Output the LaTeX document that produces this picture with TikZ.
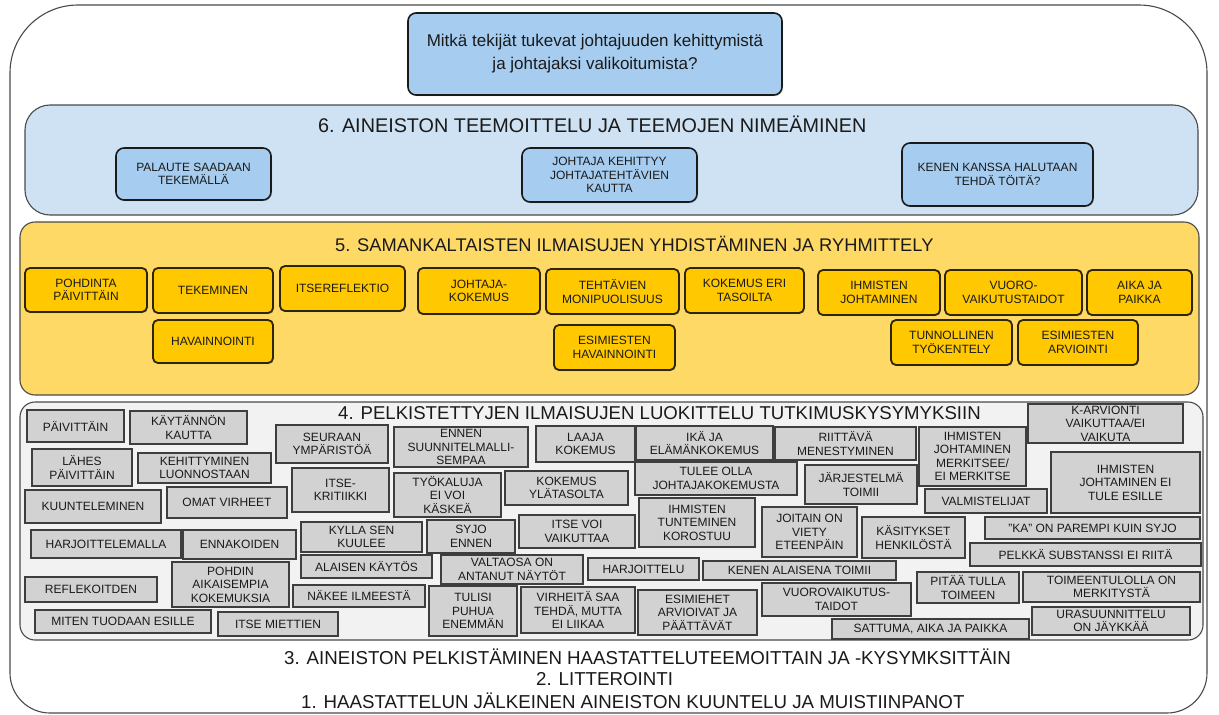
\documentclass[tikz,border=0pt]{standalone}
\usepackage{fontspec}
\setmainfont{Liberation Sans}
\usetikzlibrary{shadows}

\definecolor{frameline}{HTML}{4A4A4A}
\definecolor{qblue}{HTML}{A6CDF0}
\definecolor{panelblue}{HTML}{CFE2F3}
\definecolor{panelgold}{HTML}{FFD966}
\definecolor{gold}{HTML}{FFC800}
\definecolor{goldline}{HTML}{2E2600}
\definecolor{panelgray}{HTML}{F2F2F2}
\definecolor{grayfill}{HTML}{D2D2D2}
\definecolor{grayline}{HTML}{3E3E3E}
\definecolor{ink}{HTML}{1A1A1A}

\tikzset{
  x=1pt, y=-1pt,
  boxbase/.style={rectangle, inner sep=0pt, align=center, text=ink,
    font=\fontsize{12}{13.5}\selectfont},
  panel/.style={rectangle, inner sep=0pt, draw=frameline, line width=1.1pt},
  titletext/.style={inner sep=0pt, anchor=west, text=ink},
  steptext/.style={inner sep=0pt, anchor=west, text=ink, font=\fontsize{18.7}{21}\selectfont},
  graybox/.style={boxbase, fill=grayfill, draw=grayline, line width=1.3pt},
  goldbox/.style={boxbase, fill=gold, draw=goldline, line width=1.8pt, rounded corners=5pt,
    drop shadow={opacity=0.3, shadow xshift=1pt, shadow yshift=-1.2pt}},
  bluebox/.style={boxbase, fill=qblue, draw=ink, line width=1.6pt, rounded corners=8pt,
    drop shadow={opacity=0.3, shadow xshift=1pt, shadow yshift=-1.2pt}},
}

% \cell{style}{name}{x1}{y1}{x2}{y2}{text}: box given by its corners
\newcommand{\cell}[7]{%
  \node[#1, minimum width={(#5-#3)*1pt}, minimum height={(#6-#4)*1pt}]
    (#2) at ({(#3+#5)/2},{(#4+#6)/2}) {#7};}

\begin{document}
\begin{tikzpicture}
\useasboundingbox (0,0) rectangle (1219,715);

% outer frame
\draw[frameline, line width=1.1pt, fill=white]
  (10,400) {[rounded corners=68pt] |- (600,5) -| (1207,400)}
           {[rounded corners=40pt] |- (600,713) -| (10,400)} -- cycle;

% research question
\cell{bluebox, font=\fontsize{17}{23}\selectfont}{q}{408}{13}{782}{95}
  {Mitkä tekijät tukevat johtajuuden kehittymistä\\ja johtajaksi valikoitumista?}

% step 6
\cell{panel, fill=panelblue, rounded corners=25pt}{p6}{25}{105}{1198}{215}{}
\node[titletext, font=\fontsize{19.8}{22}\selectfont] (t6) at (318,124)
  {6. AINEISTON TEEMOITTELU JA TEEMOJEN NIMEÄMINEN};
\cell{bluebox}{b1}{116}{148}{271}{200}{PALAUTE SAADAAN\\TEKEMÄLLÄ}
\cell{bluebox}{b2}{522}{148}{697}{202}{JOHTAJA KEHITTYY\\JOHTAJATEHTÄVIEN\\KAUTTA}
\cell{bluebox}{b3}{902}{143}{1093}{206}{KENEN KANSSA HALUTAAN\\TEHDÄ TÖITÄ?}

% step 5
\cell{panel, fill=panelgold, rounded corners=15pt}{p5}{20}{222}{1199}{395}{}
\node[titletext, font=\fontsize{18.3}{22}\selectfont] (t5) at (335,244)
  {5. SAMANKALTAISTEN ILMAISUJEN YHDISTÄMINEN JA RYHMITTELY};
\cell{goldbox}{y1}{25}{268}{147}{312}{POHDINTA\\PÄIVITTÄIN}
\cell{goldbox}{y2}{153}{268}{273}{313}{TEKEMINEN}
\cell{goldbox}{y3}{280}{266}{405}{311}{ITSEREFLEKTIO}
\cell{goldbox}{y4}{418}{268}{540}{314}{JOHTAJA-\\KOKEMUS}
\cell{goldbox}{y5}{546}{269}{679}{314}{TEHTÄVIEN\\MONIPUOLISUUS}
\cell{goldbox}{y6}{685}{268}{804}{313}{KOKEMUS ERI\\TASOILTA}
\cell{goldbox}{y7}{818}{270}{940}{315}{IHMISTEN\\JOHTAMINEN}
\cell{goldbox}{y8}{945}{270}{1082}{315}{VUORO-\\VAIKUTUSTAIDOT}
\cell{goldbox}{y9}{1087}{270}{1192}{315}{AIKA JA\\PAIKKA}
\cell{goldbox}{y10}{153}{320}{273}{363}{HAVAINNOINTI}
\cell{goldbox}{y11}{554}{325}{675}{370}{ESIMIESTEN\\HAVAINNOINTI}
\cell{goldbox}{y12}{891}{320}{1012}{365}{TUNNOLLINEN\\TYÖKENTELY}
\cell{goldbox}{y13}{1018}{320}{1138}{365}{ESIMIESTEN\\ARVIOINTI}

% step 4
\cell{panel, fill=panelgray, rounded corners=15pt}{p4}{20}{402}{1203}{640}{}
\node[titletext, font=\fontsize{18.6}{22}\selectfont] (t4) at (338,413)
  {4. PELKISTETTYJEN ILMAISUJEN LUOKITTELU TUTKIMUSKYSYMYKSIIN};
\cell{graybox}{g1}{27}{410}{124}{442}{PÄIVITTÄIN}
\cell{graybox}{g2}{130}{411}{247}{444}{KÄYTÄNNÖN\\KAUTTA}
\cell{graybox}{g3}{32}{449}{132}{486}{LÄHES\\PÄIVITTÄIN}
\cell{graybox}{g4}{138}{453}{271}{483}{KEHITTYMINEN\\LUONNOSTAAN}
\cell{graybox}{g5}{25}{490}{161}{523}{KUUNTELEMINEN}
\cell{graybox}{g6}{167}{487}{287}{518}{OMAT VIRHEET}
\cell{graybox}{g7}{31}{530}{181}{558}{HARJOITTELEMALLA}
\cell{graybox}{g8}{183}{530}{296}{559}{ENNAKOIDEN}
\cell{graybox}{g9}{172}{562}{289}{607}{POHDIN\\AIKAISEMPIA\\KOKEMUKSIA}
\cell{graybox}{g10}{25}{577}{157}{602}{REFLEKOITDEN}
\cell{graybox}{g11}{35}{610}{211}{633}{MITEN TUODAAN ESILLE}
\cell{graybox}{g12}{218}{612}{338}{636}{ITSE MIETTIEN}
\cell{graybox}{g13}{276}{425}{388}{463}{SEURAAN\\YMPÄRISTÖÄ}
\cell{graybox}{g14}{394}{427}{528}{467}{ENNEN\\SUUNNITELMALLI-\\SEMPAA}
\cell{graybox}{g15}{292}{468}{389}{512}{ITSE-\\KRITIIKKI}
\cell{graybox}{g16}{394}{473}{501}{517}{TYÖKALUJA\\EI VOI\\KÄSKEÄ}
\cell{graybox}{g17}{301}{522}{422}{552}{KYLLA SEN\\KUULEE}
\cell{graybox}{g18}{427}{520}{515}{553}{SYJO\\ENNEN}
\cell{graybox}{g19}{301}{555}{432}{578}{ALAISEN KÄYTÖS}
\cell{graybox}{g20}{441}{555}{583}{584}{VALTAOSA ON\\ANTANUT NÄYTÖT}
\cell{graybox}{g21}{293}{585}{425}{607}{NÄKEE ILMEESTÄ}
\cell{graybox}{g22}{429}{586}{517}{636}{TULISI\\PUHUA\\ENEMMÄN}
\cell{graybox}{g23}{536}{426}{635}{462}{LAAJA\\KOKEMUS}
\cell{graybox}{g24}{636}{426}{773}{460}{IKÄ JA\\ELÄMÄNKOKEMUS}
\cell{graybox}{g25}{635}{462}{797}{495}{TULEE OLLA\\JOHTAJAKOKEMUSTA}
\cell{graybox}{g26}{505}{471}{628}{505}{KOKEMUS\\YLÄTASOLTA}
\cell{graybox}{g27}{639}{498}{755}{547}{IHMISTEN\\TUNTEMINEN\\KOROSTUU}
\cell{graybox}{g28}{519}{515}{635}{548}{ITSE VOI\\VAIKUTTAA}
\cell{graybox}{g29}{588}{558}{699}{580}{HARJOITTELU}
\cell{graybox}{g30}{703}{561}{896}{580}{KENEN ALAISENA TOIMII}
\cell{graybox}{g31}{521}{587}{635}{633}{VIRHEITÄ SAA\\TEHDÄ, MUTTA\\EI LIIKAA}
\cell{graybox}{g32}{638}{590}{757}{635}{ESIMIEHET\\ARVIOIVAT JA\\PÄÄTTÄVÄT}
\cell{graybox}{g33}{775}{427}{916}{460}{RIITTÄVÄ\\MENESTYMINEN}
\cell{graybox}{g34}{919}{427}{1026}{486}{IHMISTEN\\JOHTAMINEN\\MERKITSEE/\\EI MERKITSE}
\cell{graybox}{g35}{805}{465}{917}{504}{JÄRJESTELMÄ\\TOIMII}
\cell{graybox}{g36}{925}{489}{1047}{513}{VALMISTELIJAT}
\cell{graybox}{g37}{762}{507}{857}{557}{JOITAIN ON\\VIETY\\ETEENPÄIN}
\cell{graybox}{g38}{862}{517}{965}{558}{KÄSITYKSET\\HENKILÖSTÄ}
\cell{graybox}{g39}{762}{583}{911}{616}{VUOROVAIKUTUS-\\TAIDOT}
\cell{graybox}{g40}{917}{572}{1019}{603}{PITÄÄ TULLA\\TOIMEEN}
\cell{graybox}{g41}{832}{619}{1029}{639}{SATTUMA, AIKA JA PAIKKA}
\cell{graybox}{g42}{1028}{404}{1183}{443}{K-ARVIONTI\\VAIKUTTAA/EI\\VAIKUTA}
\cell{graybox}{g43}{1051}{452}{1200}{513}{IHMISTEN\\JOHTAMINEN EI\\TULE ESILLE}
\cell{graybox}{g44}{985}{517}{1200}{539}{"KA" ON PAREMPI KUIN SYJO}
\cell{graybox}{g45}{970}{543}{1201}{566}{PELKKÄ SUBSTANSSI EI RIITÄ}
\cell{graybox}{g46}{1023}{572}{1200}{602}{TOIMEENTULOLLA ON\\MERKITYSTÄ}
\cell{graybox}{g47}{1032}{607}{1190}{635}{URASUUNNITTELU\\ON JÄYKKÄÄ}

% steps 3, 2 and 1
\node[steptext] (s3) at (284,657) {3. AINEISTON PELKISTÄMINEN HAASTATTELUTEEMOITTAIN JA -KYSYMKSITTÄIN};
\node[steptext] (s2) at (536,679) {2. LITTEROINTI};
\node[steptext] (s1) at (301,701) {1. HAASTATTELUN JÄLKEINEN AINEISTON KUUNTELU JA MUISTIINPANOT};
\end{tikzpicture}
\end{document}
